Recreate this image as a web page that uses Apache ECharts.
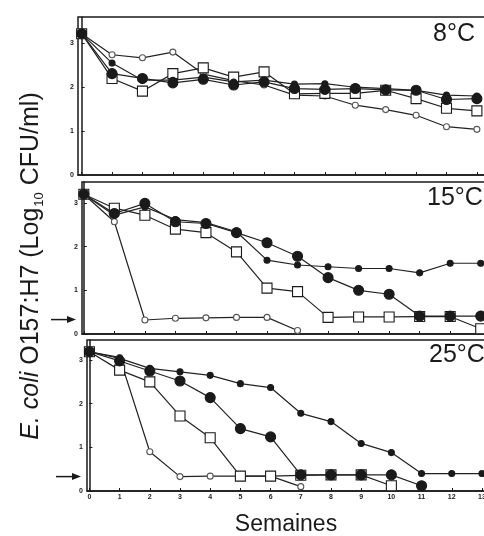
<!DOCTYPE html>
<html><head><meta charset="utf-8">
<script src="https://cdn.jsdelivr.net/npm/echarts@6/dist/echarts.min.js"></script>
<style>html,body{margin:0;padding:0;background:#fff}#c{width:484px;height:536px}</style>
</head><body><div id="c"></div>
<script>
// ---- data ----
const weeks = [0,1,2,3,4,5,6,7,8,9,10,11,12,13];
const xTickLabels = ['0','1','2','3','4','5','6','7','8','9','10','11','12','13'];
const yTickValues = [0,1,2,3];
const panelLabels = ['8°C','15°C','25°C'];
const detectionLimit = 0.33;

const t8_filledSmall  = [3.22,2.55,2.16,2.16,2.23,2.12,2.16,2.07,2.08,2.00,1.97,1.93,1.82,1.80];
const t8_filledLarge  = [3.22,2.31,2.20,2.10,2.18,2.05,2.12,1.97,1.95,1.97,1.94,1.93,1.72,1.74];
const t8_openSquare   = [3.22,2.20,1.91,2.31,2.44,2.23,2.35,1.85,1.86,1.86,1.93,1.74,1.52,1.46];
const t8_openCircle   = [3.22,2.74,2.67,2.80,2.30,2.15,2.05,1.82,1.80,1.59,1.49,1.36,1.10,1.04];

const t15_filledSmall = [3.20,2.72,2.91,2.62,2.55,2.34,1.69,1.58,1.54,1.50,1.50,1.40,1.62,1.62];
const t15_filledLarge = [3.20,2.76,2.99,2.57,2.53,2.32,2.09,1.78,1.29,1.00,0.91,0.41,0.41,0.41];
const t15_openSquare  = [3.20,2.88,2.72,2.40,2.32,1.88,1.05,0.97,0.38,0.39,0.39,0.40,0.40,0.12];
const t15_openCircle  = [3.20,2.57,0.32,0.36,0.37,0.38,0.38,0.08,null,null,null,null,null,null];

const t25_filledSmall = [3.19,3.04,2.81,2.73,2.65,2.46,2.37,1.78,1.59,1.09,0.88,0.40,0.40,0.40];
const t25_filledLarge = [3.19,2.98,2.75,2.52,2.14,1.43,1.24,0.37,0.37,0.37,0.37,0.12,null,null];
const t25_openSquare  = [3.19,2.77,2.50,1.72,1.22,0.34,0.34,0.36,0.37,0.37,0.12,null,null,null];
const t25_openCircle  = [3.19,3.06,0.90,0.33,0.34,0.34,0.34,0.10,null,null,null,null,null,null];

const panels = [
  [t8_filledSmall, t8_filledLarge, t8_openSquare, t8_openCircle],
  [t15_filledSmall, t15_filledLarge, t15_openSquare, t15_openCircle],
  [t25_filledSmall, t25_filledLarge, t25_openSquare, t25_openCircle]
];

// ---- layout / style ----
const grids = [
  {left:78, right:-16, top:17,  bottom:361, xmin:-0.12, xmax:13.76, ymax:3.6},
  {left:82, right:-19, top:182, bottom:202, xmin:-0.06, xmax:13.73, ymax:3.48},
  {left:87, right:-20, top:340, bottom:45,  xmin:-0.08, xmax:13.73, ymax:3.46}
];
const ink = '#1a1a1a';
const markerStyles = [
  {symbol:'circle', size:6,  fill:ink,    border:ink},
  {symbol:'circle', size:10, fill:ink,    border:ink},
  {symbol:'rect',   size:10, fill:'#fff', border:ink},
  {symbol:'circle', size:6,  fill:'#fff', border:'#555'}
];

const chart = echarts.init(document.getElementById('c'), null, {renderer:'canvas'});

const option = {
  animation:false,
  backgroundColor:'#fff',
  grid: grids.map(g => ({left:g.left, right:g.right, top:g.top, bottom:g.bottom,
    outerBoundsMode:'none', containLabel:false,
    show:true, borderColor:ink, borderWidth:1.5, backgroundColor:'transparent'})),
  xAxis: grids.map((g,i) => ({
    type:'value', gridIndex:i, min:g.xmin, max:g.xmax,
    axisLine:{show:true, lineStyle:{color:ink, width:1.5}},
    axisTick:{show:true, inside:true, length:3, lineStyle:{color:ink}, customValues:weeks},
    axisLabel:{show:i===2, customValues:weeks, margin:3, fontSize:7, fontWeight:'bold', color:ink,
      fontFamily:'Liberation Sans', formatter:v => xTickLabels[weeks.indexOf(v)] ?? ''},
    splitLine:{show:false}
  })),
  yAxis: grids.map((g,i) => ({
    type:'value', gridIndex:i, min:0, max:g.ymax,
    axisLine:{show:true, lineStyle:{color:ink, width:1.5}},
    axisTick:{show:true, inside:true, length:3, lineStyle:{color:ink}, customValues:yTickValues},
    axisLabel:{show:true, customValues:yTickValues, margin:4, fontSize:7, fontWeight:'bold', color:ink,
      fontFamily:'Liberation Sans'},
    splitLine:{show:false}
  })),
  series: []
};

panels.forEach((sets, p) => {
  sets.forEach((vals, k) => {
    const m = markerStyles[k];
    option.series.push({
      type:'line', xAxisIndex:p, yAxisIndex:p,
      data: weeks.map((w,j) => vals[j] == null ? null : [w, vals[j]]).filter(d => d),
      symbol:m.symbol, symbolSize:m.size, showAllSymbol:true,
      lineStyle:{color:'#222', width:1.2},
      itemStyle:{color:m.fill, borderColor:m.border, borderWidth:1.1},
      z: 3 + (3-k)
    });
  });
});
chart.setOption(option);

// ---- annotations: axis title, x title, temperatures, detection-limit arrows ----
const graphics = [];
graphics.push({
  type:'text', x:31, y:266, rotation:Math.PI/2,
  style:{
    text:'{i|E. coli}{n| O157:H7 (Log}{s|10}{n| CFU/ml)}',
    align:'center', verticalAlign:'middle', fill:ink,
    rich:{
      n:{fontSize:25, fontFamily:'Liberation Sans', fill:ink, lineHeight:30, verticalAlign:'middle'},
      i:{fontSize:25, fontFamily:'Liberation Sans', fontStyle:'italic', fill:ink, lineHeight:30, verticalAlign:'middle'},
      s:{fontSize:13, fontFamily:'Liberation Sans', fill:ink, lineHeight:30, verticalAlign:'bottom', padding:[0,0,0,1]}
    }
  }
});
graphics.push({type:'text', x:286, y:525,
  style:{text:'Semaines', fontSize:23, fontFamily:'Liberation Sans', fill:ink, align:'center', verticalAlign:'middle'}});

const labelPos = [[433,34],[427,198],[429,355]];
panelLabels.forEach((t,i) => graphics.push({type:'text', x:labelPos[i][0], y:labelPos[i][1],
  style:{text:t, fontSize:25, fontFamily:'Liberation Sans', fill:ink, align:'left', verticalAlign:'middle'}}));

[1,2].forEach(p => {
  const pt = chart.convertToPixel({xAxisIndex:p, yAxisIndex:p}, [grids[p].xmin, detectionLimit]);
  const xEnd = pt[0] - 6, xStart = pt[0] - 31, y = pt[1];
  graphics.push({type:'line', shape:{x1:xStart, y1:y, x2:xEnd-6, y2:y}, style:{stroke:ink, lineWidth:1.5}});
  graphics.push({type:'polygon', shape:{points:[[xEnd,y],[xEnd-9,y-3.5],[xEnd-9,y+3.5]]}, style:{fill:ink}});
});
chart.setOption({graphic:graphics});
</script></body></html>
